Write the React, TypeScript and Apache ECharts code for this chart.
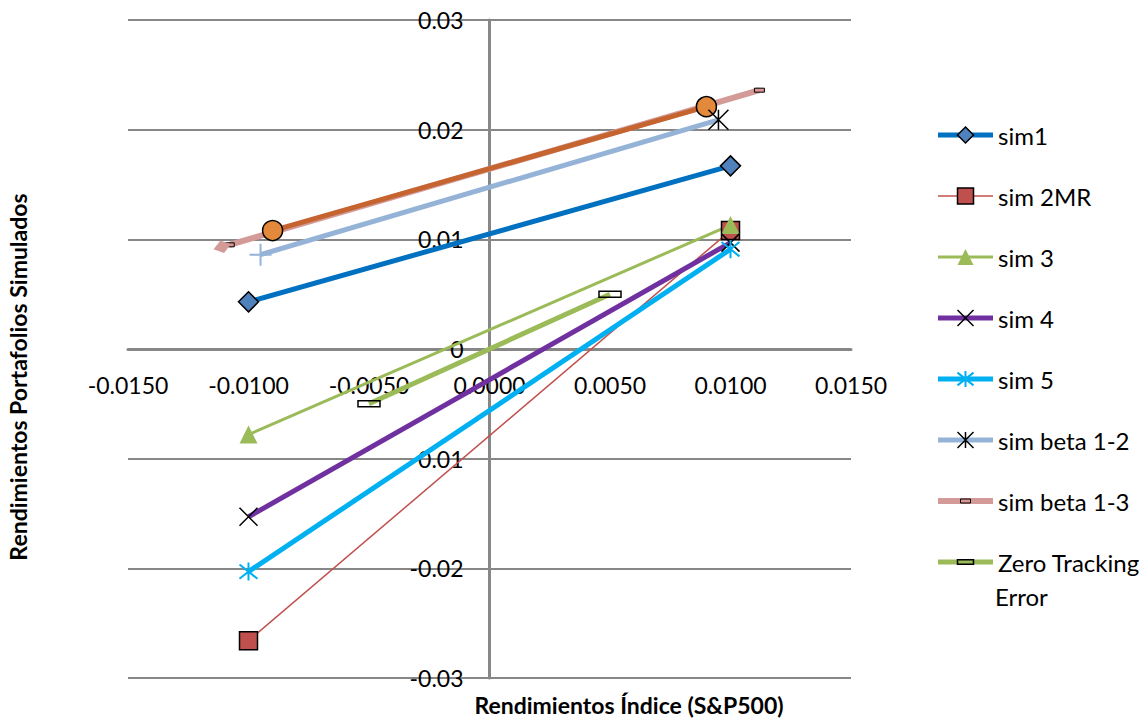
import React, { useEffect, useRef } from "react";
import * as echarts from "echarts";

// ---- data ----
const simX = [-0.01, 0.01];
const sim1Y = [0.0043, 0.0167];
const sim2Y = [-0.0266, 0.0108];
const sim3Y = [-0.0078, 0.0113];
const sim4Y = [-0.0153, 0.0097];
const sim5Y = [-0.0203, 0.0091];
const beta12X = [-0.0095, 0.0095];
const beta12Y = [0.0086, 0.0209];
const beta13X = [-0.0108, 0.0112];
const beta13Y = [0.0095, 0.0236];
const serie9X = [-0.009, 0.009];
const serie9Y = [0.0108, 0.0221];
const zteX = [-0.005, 0.005];
const zteY = [-0.005, 0.005];

const xMin = -0.015;
const xMax = 0.015;
const xStep = 0.005;
const yMin = -0.03;
const yMax = 0.03;
const yStep = 0.01;

const legendNames = [
  "sim1",
  "sim 2MR",
  "sim 3",
  "sim 4",
  "sim 5",
  "sim beta 1-2",
  "sim beta 1-3",
  "Zero Tracking Error",
];

const xTitle = "Rendimientos Índice (S&P500)";
const yTitle = "Rendimientos Portafolios Simulados";

const FONT = "Lato";

const X_PATH = "path://M0 0L10 10M10 0L0 10";
const STAR_PATH = "path://M5 0V10M0 1L10 9M0 9L10 1";
const ASTER_PATH = "path://M5 0V10M0 0L10 10M10 0L0 10";
const PLUS_PATH = "path://M5 0V10M0 5H10";
const SMALLRECT_PATH = "path://M0 0M3 6H13V10H3ZM16 16";
const ZTE_PATH = "path://M0 0M0 8H22V14H0ZM22 22";

const pts = (xs: number[], ys: number[]) => xs.map((x, i) => [x, ys[i]]);

type Spec = {
  name: string;
  xs: number[];
  ys: number[];
  color: string;
  width: number;
  symbol: string;
  symbolSize: number;
  itemStyle: any;
};

const specs: Spec[] = [
  { name: "sim1", xs: simX, ys: sim1Y, color: "#0070C0", width: 5, symbol: "diamond", symbolSize: 20, itemStyle: { color: "#4F81BD", borderColor: "#000", borderWidth: 1.5 } },
  { name: "sim 2MR", xs: simX, ys: sim2Y, color: "#C0504D", width: 1.5, symbol: "rect", symbolSize: 18, itemStyle: { color: "#C0504D", borderColor: "#000", borderWidth: 1.5 } },
  { name: "sim 3", xs: simX, ys: sim3Y, color: "#9BBB59", width: 3, symbol: "triangle", symbolSize: 18, itemStyle: { color: "#9BBB59", borderWidth: 0 } },
  { name: "sim 4", xs: simX, ys: sim4Y, color: "#7030A0", width: 5, symbol: X_PATH, symbolSize: 18, itemStyle: { color: "none", borderColor: "#000", borderWidth: 1.5 } },
  { name: "sim 5", xs: simX, ys: sim5Y, color: "#00B0F0", width: 5, symbol: STAR_PATH, symbolSize: 18, itemStyle: { color: "none", borderColor: "#00B0F0", borderWidth: 2 } },
  { name: "sim beta 1-3", xs: beta13X, ys: beta13Y, color: "#D39A98", width: 6, symbol: SMALLRECT_PATH, symbolSize: 16, itemStyle: { color: "#D99694", borderColor: "#000", borderWidth: 1 } },
  { name: "serie 9", xs: serie9X, ys: serie9Y, color: "#C5642E", width: 5, symbol: "circle", symbolSize: 20, itemStyle: { color: "#E3893C", borderColor: "#000", borderWidth: 1.5 } },
  { name: "sim beta 1-2", xs: beta12X, ys: beta12Y, color: "#95B3D7", width: 5, symbol: ASTER_PATH, symbolSize: 20, itemStyle: { color: "none", borderColor: "#000", borderWidth: 1.5 } },
  { name: "Zero Tracking Error", xs: zteX, ys: zteY, color: "#9BBB59", width: 5, symbol: ZTE_PATH, symbolSize: 22, itemStyle: { color: "none", borderColor: "#000", borderWidth: 1.5 } },
];

const GRID = { left: 128, right: 294, top: 20, bottom: 41 };
const W = 1145;
const H = 719;

export default function App() {
  const ref = useRef<HTMLDivElement>(null);

  useEffect(() => {
    if (!ref.current) return;
    const chart = echarts.init(ref.current, undefined, { renderer: "svg" });

    const series = specs.map((s) => {
      const data: any[] = pts(s.xs, s.ys).map((p) => ({ value: p }));
      if (s.name === "sim beta 1-2") {
        data[0] = {
          value: data[0].value,
          symbol: PLUS_PATH,
          symbolSize: 22,
          itemStyle: { color: "none", borderColor: "#95B3D7", borderWidth: 2 },
        };
      }
      const ser: any = {
        name: s.name,
        type: "line",
        xAxisIndex: 0,
        yAxisIndex: 0,
        data,
        symbol: s.symbol,
        symbolSize: s.symbolSize,
        showSymbol: true,
        lineStyle: { color: s.color, width: s.width },
        itemStyle: s.itemStyle,
        emphasis: { disabled: true },
        silent: true,
      };
      if (s.name === "sim beta 1-3") {
        ser.markPoint = {
          silent: true,
          label: { show: false },
          data: [
            {
              coord: [s.xs[0], s.ys[0]],
              symbol: "diamond",
              symbolSize: [18, 13],
              symbolRotate: 16,
              symbolOffset: [-7, 2],
              itemStyle: { color: "#D39A98", borderWidth: 0 },
            },
          ],
        };
      }
      return ser;
    });

    const legendData = legendNames.map((n) => {
      const s = specs.find((q) => q.name === n)!;
      return {
        name: n,
        itemStyle: { ...s.itemStyle },
        lineStyle: { color: s.color, width: s.width },
      };
    });

    const gridW = W - GRID.left - GRID.right;
    const gridH = H - GRID.top - GRID.bottom;
    // distance of the value 0 from the bottom / left edge of the grid
    const zeroFromBottom = (gridH * (0 - yMin)) / (yMax - yMin);
    const zeroFromLeft = (gridW * (0 - xMin)) / (xMax - xMin);

    const xLabel = {
      margin: 24,
      fontSize: 23,
      fontFamily: FONT,
      color: "#000",
      formatter: (v: number) => v.toFixed(4),
    };
    const yLabel = {
      margin: 26,
      fontSize: 23,
      fontFamily: FONT,
      color: "#000",
      formatter: (v: number) => (Math.abs(v) < 1e-12 ? "0" : v.toFixed(2)),
    };

    chart.setOption({
      animation: false,
      textStyle: { fontFamily: FONT },
      grid: { ...GRID, containLabel: false },
      xAxis: [
        {
          type: "value",
          position: "bottom",
          min: xMin,
          max: xMax,
          interval: xStep,
          axisLine: { onZero: true, lineStyle: { color: "#878787", width: 3 } },
          axisTick: { show: false },
          splitLine: { show: false },
          axisLabel: { show: false },
        },
        {
          type: "value",
          position: "bottom",
          offset: -zeroFromBottom,
          min: xMin,
          max: xMax,
          interval: xStep,
          axisLine: { show: false, onZero: false },
          axisTick: { show: false },
          splitLine: { show: false },
          axisLabel: xLabel,
        },
      ],
      yAxis: [
        {
          type: "value",
          position: "left",
          min: yMin,
          max: yMax,
          interval: yStep,
          axisLine: { show: true, onZero: true, lineStyle: { color: "#878787", width: 3 } },
          axisTick: { show: false },
          splitLine: { show: true, lineStyle: { color: "#878787", width: 2 } },
          axisLabel: { show: false },
        },
        {
          type: "value",
          position: "left",
          offset: -zeroFromLeft,
          min: yMin,
          max: yMax,
          interval: yStep,
          axisLine: { show: false, onZero: false },
          axisTick: { show: false },
          splitLine: { show: false },
          axisLabel: yLabel,
        },
      ],
      legend: {
        orient: "vertical",
        left: 935,
        top: 123,
        padding: 0,
        itemWidth: 55,
        itemHeight: 20,
        itemGap: 37,
        selectedMode: false,
        textStyle: { fontSize: 24, fontFamily: FONT, color: "#000", lineHeight: 24 },
        formatter: (n: string) => (n === "Zero Tracking Error" ? "Zero Tracking" : n),
        data: legendData,
      },
      graphic: [
        {
          type: "text",
          x: 629,
          y: 705,
          silent: true,
          style: {
            text: xTitle,
            font: `bold 23px ${FONT}`,
            fill: "#000",
            textAlign: "center",
            textVerticalAlign: "middle",
          },
        },
        {
          type: "text",
          x: 18,
          y: 377,
          rotation: Math.PI / 2,
          silent: true,
          style: {
            text: yTitle,
            font: `bold 23px ${FONT}`,
            fill: "#000",
            textAlign: "center",
            textVerticalAlign: "middle",
          },
        },
        {
          type: "text",
          x: 995,
          y: 596,
          silent: true,
          style: {
            text: "Error",
            font: `24px ${FONT}`,
            fill: "#000",
            textAlign: "left",
            textVerticalAlign: "middle",
          },
        },
      ],
      series,
    });

    return () => chart.dispose();
  }, []);

  return (
    <div
      ref={ref}
      style={{ position: "fixed", left: 0, top: 0, width: W, height: H, background: "#fff" }}
    />
  );
}
